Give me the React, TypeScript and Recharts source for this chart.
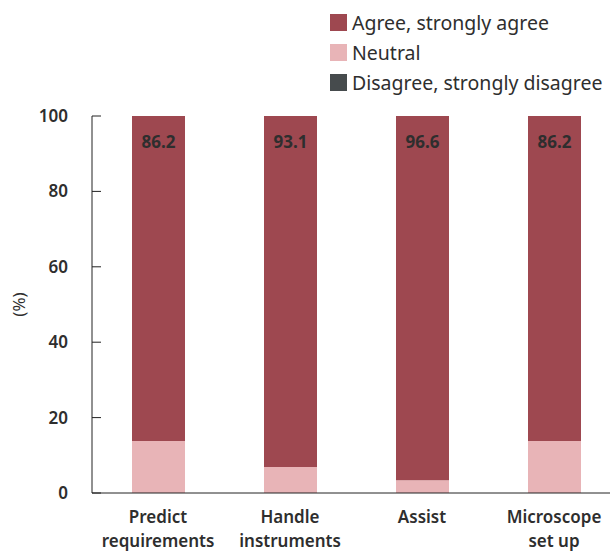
import { Bar, BarChart, LabelList, XAxis, YAxis } from 'recharts';

const categories = ['Predict\nrequirements', 'Handle\ninstruments', 'Assist', 'Microscope\nset up'];
const agree = [86.2, 93.1, 96.6, 86.2];
const neutral = [13.8, 6.9, 3.4, 13.8];
const disagree = [0, 0, 0, 0];
const yTicks = [0, 20, 40, 60, 80, 100];

const series = [
  { key: 'agree', name: 'Agree, strongly agree', color: '#9e4850' },
  { key: 'neutral', name: 'Neutral', color: '#e8b4b7' },
  { key: 'disagree', name: 'Disagree, strongly disagree', color: '#464b4d' },
];

const data = categories.map((name, i) => ({
  name,
  agree: agree[i],
  neutral: neutral[i],
  disagree: disagree[i],
}));

const font = '"Noto Sans", sans-serif';
const ink = '#2e2e2e';

function CategoryTick({ x, y, payload }: any) {
  const lines = String(payload.value).split('\n');
  return (
    <text x={x} y={y} textAnchor="middle" fill={ink} fontSize={17} fontWeight={600} fontFamily={font}>
      {lines.map((line, i) => (
        <tspan key={i} x={x} dy={i === 0 ? 22 : 24}>
          {line}
        </tspan>
      ))}
    </text>
  );
}

function LegendBox() {
  return (
    <div style={{ position: 'absolute', left: 330, top: 7, fontFamily: font, fontSize: 19.5, color: ink }}>
      {series.map((s) => (
        <div key={s.key} style={{ display: 'flex', alignItems: 'center', height: 30 }}>
          <span style={{ width: 17, height: 17, background: s.color, marginRight: 5, display: 'inline-block' }} />
          <span>{s.name}</span>
        </div>
      ))}
    </div>
  );
}

export default function App() {
  return (
    <div style={{ position: 'absolute', left: 0, top: 0, width: 610, height: 552, overflow: 'hidden', background: '#fff' }}>
      <BarChart
        width={640}
        height={552}
        data={data}
        margin={{ top: 116, right: 20, bottom: 0, left: 0 }}
      >
        <XAxis
          dataKey="name"
          tick={<CategoryTick />}
          tickLine={false}
          axisLine={{ stroke: '#222' }}
          interval={0}
          height={59}
          padding={{ left: 0, right: 0 }}
        />
        <YAxis
          domain={[0, 100]}
          ticks={yTicks}
          width={92}
          axisLine={{ stroke: '#222' }}
          tickLine={{ stroke: '#222' }}
          tickSize={-9}
          tickMargin={33}
          tick={{ fill: ink, fontSize: 17, fontWeight: 600, fontFamily: font }}
          label={{
            value: '(%)',
            angle: -90,
            position: 'insideLeft',
            dx: 14,
            style: { fill: ink, fontSize: 17, fontFamily: font, textAnchor: 'middle' },
          }}
        />
        <Bar dataKey="disagree" stackId="a" fill={series[2].color} barSize={53} isAnimationActive={false} />
        <Bar dataKey="neutral" stackId="a" fill={series[1].color} barSize={53} isAnimationActive={false} />
        <Bar dataKey="agree" stackId="a" fill={series[0].color} barSize={53} isAnimationActive={false}>
          <LabelList
            dataKey="agree"
            position="insideTop"
            offset={20}
            formatter={(v: any) => Number(v).toFixed(1)}
            style={{ fill: ink, fontSize: 17, fontWeight: 700, fontFamily: font }}
          />
        </Bar>
      </BarChart>
      <LegendBox />
    </div>
  );
}
